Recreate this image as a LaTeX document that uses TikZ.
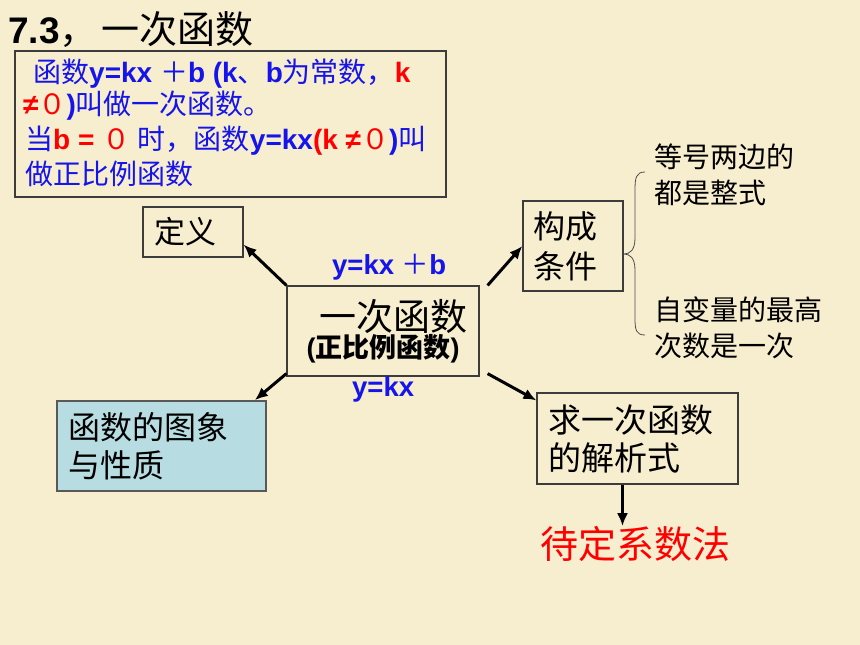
\documentclass[tikz,border=0pt]{standalone}
\usepackage{fontspec}
\setmainfont{Liberation Sans}
\newfontfamily\cjk{Noto Sans CJK SC}
\usetikzlibrary{arrows.meta}
\definecolor{bg}{RGB}{247,237,207}
\definecolor{defblue}{RGB}{20,20,235}
\definecolor{defred}{RGB}{255,0,0}
\definecolor{lblue}{RGB}{183,221,226}
\definecolor{boxline}{RGB}{60,60,60}
\begin{document}
\begin{tikzpicture}[x=1pt,y=-1pt,
  box/.style={draw=boxline, line width=1.2pt, rectangle, inner xsep=11pt, inner ysep=0pt, align=left},
  arr/.style={-{Latex[length=13pt,width=11pt]}, line width=3pt, black},
  deftext/.style={inner sep=0pt, anchor=base west, text=defblue, font=\fontsize{28}{30}\selectfont\bfseries},
  bluelbl/.style={inner sep=0pt, anchor=base west, text=defblue, font=\fontsize{27.5}{30}\selectfont\bfseries},
  side/.style={inner sep=0pt, anchor=west, align=left, font=\cjk\fontsize{28}{36}\selectfont}]
\fill[bg] (0,0) rectangle (860,645);
\useasboundingbox (0,0) rectangle (860,645);

% title
\node[inner sep=0pt, anchor=base west] (title) at (8,43)
  {\fontsize{37}{40}\selectfont\bfseries 7.3{\cjk\mdseries\fontsize{38}{40}\selectfont ，\hspace*{4pt}一次函数}};

% definition box
\node[draw=boxline, line width=1.5pt, minimum width=431pt, minimum height=146pt,
      anchor=north west, inner sep=0pt] (defbox) at (14,50) {};
\node[deftext] (l1) at (33,82)
  {{\cjk\mdseries 函数}y=kx {\cjk\mdseries ＋}b (k{\cjk\mdseries 、}b{\cjk\mdseries 为常数，}\textcolor{defred}{k}};
\node[deftext] (l2) at (23,114)
  {\textcolor{defred}{≠{\cjk\mdseries ０}}){\cjk\mdseries 叫做一次函数。}};
\node[deftext] (l3) at (25,149)
  {{\cjk\mdseries 当}\textcolor{defred}{b = {\cjk\mdseries ０}} {\cjk\mdseries 时，函数}y=kx\textcolor{defred}{(k ≠{\cjk\mdseries ０}}){\cjk\mdseries 叫}};
\node[deftext] (l4) at (25,184)
  {{\cjk\mdseries 做正比例函数}};

% boxes
\node[box, text width=78pt, minimum height=50pt, font=\cjk\fontsize{31}{38}\selectfont] (def) at (193,232) {定义};
\node[box, text width=80pt, inner xsep=10pt, minimum height=90pt, font=\cjk\fontsize{32}{40}\selectfont] (cond) at (573,246) {构成\\条件};
\node[draw=boxline, line width=1.2pt, minimum width=192pt, minimum height=90pt, inner sep=0pt, align=center] (c) at (383,331)
  {{\cjk\fontsize{37}{40}\selectfont\hspace*{20pt}一次函数}\\[0pt]{\fontsize{27}{30}\selectfont\bfseries ({\cjk 正比例函数})}};
\node[box, fill=lblue, draw=gray!70!black, line width=1.6pt, text width=187pt, minimum height=90pt, font=\cjk\fontsize{32}{38}\selectfont] (gr) at (161.5,446) {函数的图象\\与性质};
\node[box, text width=179pt, minimum height=91pt, font=\cjk\fontsize{33}{38}\selectfont] (sol) at (637.5,438.5) {求一次函数\\的解析式};
\node[inner sep=0pt, text=defred, font=\cjk\fontsize{38}{40}\selectfont] (method) at (635,544) {待定系数法};

% side texts
\node[side] (s1) at (654,175) {等号两边的\\都是整式};
\node[side] (s2) at (654,328) {自变量的最高\\次数是一次};
\draw[line width=0.8pt, black!70] (645,172) .. controls (636,172) and (635,178) .. (635,190) -- (635,238)
  .. controls (635,250) and (630,254) .. (624,254) .. controls (630,254) and (635,258) .. (635,270)
  -- (635,318) .. controls (635,330) and (636,335) .. (645,335);

% blue labels
\node[bluelbl] (lb1) at (332,274) {y=kx {\cjk\mdseries ＋}b};
\node[bluelbl] (lb2) at (352,396) {y=kx};

% arrows
\draw[arr] (c.north west) -- ([yshift=13pt]def.south east);
\draw[arr] ([xshift=8pt]c.north east) -- (cond.west);
\draw[arr] ([yshift=3pt]c.south west) -- ([xshift=-12pt]gr.north east);
\draw[arr] ([xshift=8pt,yshift=3pt]c.south east) -- ([yshift=-8pt]sol.north west);
\draw[arr] ([xshift=-15pt]sol.south) -- ([xshift=-15pt]sol.south |- method.north);
\end{tikzpicture}
\end{document}
